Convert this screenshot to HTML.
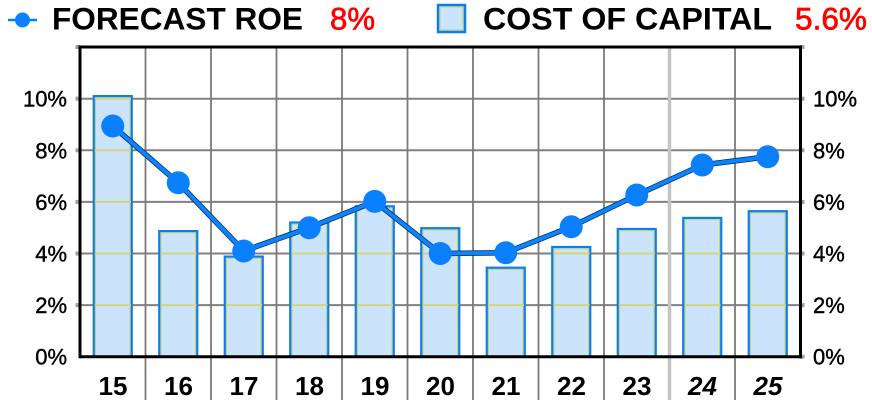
<!DOCTYPE html>
<html><head><meta charset="utf-8">
<style>
html,body{margin:0;padding:0;background:#fff;}
svg{display:block;}
text{font-family:"Liberation Sans",Arial,sans-serif;}
</style></head>
<body>
<svg width="872" height="408" viewBox="0 0 872 408" xmlns="http://www.w3.org/2000/svg">
<rect width="872" height="408" fill="#fff"/>
<!-- Legend -->
<line x1="8" y1="20" x2="37" y2="20" stroke="#0a7ef5" stroke-width="2.5"/>
<circle cx="22.5" cy="20" r="7.5" fill="#0a80ff"/>
<text x="52" y="29.5" font-size="31.5" font-weight="bold" fill="#000" textLength="251" lengthAdjust="spacingAndGlyphs">FORECAST ROE</text>
<text x="330" y="29.5" font-size="31.5" fill="#ff0000" stroke="#ff0000" stroke-width="0.7" textLength="45" lengthAdjust="spacingAndGlyphs">8%</text>
<rect x="438" y="5" width="27" height="27" fill="#cce4fb" stroke="#0a7ef0" stroke-width="2.5"/>
<rect x="440" y="7" width="23" height="23" fill="none" stroke="#c8d46a" stroke-width="1"/>
<text x="483" y="29.5" font-size="31.5" font-weight="bold" fill="#000" textLength="289" lengthAdjust="spacingAndGlyphs">COST OF CAPITAL</text>
<text x="795" y="29.5" font-size="31.5" fill="#ff0000" stroke="#ff0000" stroke-width="0.7" textLength="72" lengthAdjust="spacingAndGlyphs">5.6%</text>

<!-- horizontal gridlines -->
<g stroke="#808080" stroke-width="2">
<line x1="80" y1="98.7" x2="800" y2="98.7"/>
<line x1="80" y1="150.3" x2="800" y2="150.3"/>
<line x1="80" y1="201.9" x2="800" y2="201.9"/>
<line x1="80" y1="253.5" x2="800" y2="253.5"/>
<line x1="80" y1="305.1" x2="800" y2="305.1"/>
</g>
<!-- vertical gridlines (extend below axis) -->
<g stroke="#7a7a7a" stroke-width="1.8">
<line x1="145.5" y1="47" x2="145.5" y2="400"/>
<line x1="211" y1="47" x2="211" y2="400"/>
<line x1="276.5" y1="47" x2="276.5" y2="400"/>
<line x1="342" y1="47" x2="342" y2="400"/>
<line x1="407.5" y1="47" x2="407.5" y2="400"/>
<line x1="473" y1="47" x2="473" y2="400"/>
<line x1="538.5" y1="47" x2="538.5" y2="400"/>
<line x1="604" y1="47" x2="604" y2="400"/>
<line x1="735" y1="47" x2="735" y2="400"/>
</g>
<line x1="669.5" y1="47" x2="669.5" y2="400" stroke="#c4c4c4" stroke-width="3.5"/>

<!-- Bars -->
<g fill="#cce4fb" stroke="#0a7ef0" stroke-width="2.2">
<rect x="93.75" y="96.1" width="38" height="260.6"/>
<rect x="159.25" y="231.1" width="38" height="125.6"/>
<rect x="224.75" y="256.6" width="38" height="100.1"/>
<rect x="290.25" y="222.5" width="38" height="134.2"/>
<rect x="355.75" y="206.3" width="38" height="150.4"/>
<rect x="421.25" y="228.2" width="38" height="128.5"/>
<rect x="486.75" y="267.7" width="38" height="89"/>
<rect x="552.25" y="247.0" width="38" height="109.7"/>
<rect x="617.75" y="229.0" width="38" height="127.7"/>
<rect x="683.25" y="217.9" width="38" height="138.8"/>
<rect x="748.75" y="211.2" width="38" height="145.5"/>
</g>
<g fill="none" stroke="#c8d46a" stroke-width="1">
<rect x="95.5" y="97.9" width="34.5" height="258"/>
<rect x="161" y="232.9" width="34.5" height="123"/>
<rect x="226.5" y="258.4" width="34.5" height="97.5"/>
<rect x="292" y="224.3" width="34.5" height="131.6"/>
<rect x="357.5" y="208.1" width="34.5" height="147.8"/>
<rect x="423" y="230" width="34.5" height="125.9"/>
<rect x="488.5" y="269.5" width="34.5" height="86.4"/>
<rect x="554" y="248.8" width="34.5" height="107.1"/>
<rect x="619.5" y="230.8" width="34.5" height="125.1"/>
<rect x="685" y="219.7" width="34.5" height="136.2"/>
<rect x="750.5" y="213" width="34.5" height="142.9"/>
</g>
<!-- yellowish gridline segments inside bars -->
<g stroke="#d2d67a" stroke-width="2">
<line x1="95" y1="98.7" x2="131" y2="98.7"/>
<line x1="95" y1="150.3" x2="131" y2="150.3"/>
<line x1="95" y1="201.9" x2="131" y2="201.9"/>
<line x1="95" y1="253.5" x2="131" y2="253.5"/>
<line x1="95" y1="305.1" x2="131" y2="305.1"/>
<line x1="160.5" y1="253.5" x2="196.5" y2="253.5"/>
<line x1="160.5" y1="305.1" x2="196.5" y2="305.1"/>
<line x1="226" y1="305.1" x2="262" y2="305.1"/>
<line x1="291.5" y1="253.5" x2="327.5" y2="253.5"/>
<line x1="291.5" y1="305.1" x2="327.5" y2="305.1"/>
<line x1="357" y1="253.5" x2="393" y2="253.5"/>
<line x1="357" y1="305.1" x2="393" y2="305.1"/>
<line x1="422.5" y1="253.5" x2="458.5" y2="253.5"/>
<line x1="422.5" y1="305.1" x2="458.5" y2="305.1"/>
<line x1="488" y1="305.1" x2="524" y2="305.1"/>
<line x1="553.5" y1="253.5" x2="589.5" y2="253.5"/>
<line x1="553.5" y1="305.1" x2="589.5" y2="305.1"/>
<line x1="619" y1="253.5" x2="655" y2="253.5"/>
<line x1="619" y1="305.1" x2="655" y2="305.1"/>
<line x1="684.5" y1="253.5" x2="720.5" y2="253.5"/>
<line x1="684.5" y1="305.1" x2="720.5" y2="305.1"/>
<line x1="750" y1="253.5" x2="786" y2="253.5"/>
<line x1="750" y1="305.1" x2="786" y2="305.1"/>
</g>

<!-- Forecast line -->
<polyline fill="none" stroke="#0b2a55" stroke-width="5.5" stroke-linejoin="round"
 points="112.75,126 178.25,182.8 243.75,251 309.25,227.7 374.75,201.4 440.25,253.5 505.75,252.7 571.25,226.7 636.75,195 702.25,165 767.75,156.7"/>
<polyline fill="none" stroke="#0a84ff" stroke-width="4" stroke-linejoin="round"
 points="112.75,126 178.25,182.8 243.75,251 309.25,227.7 374.75,201.4 440.25,253.5 505.75,252.7 571.25,226.7 636.75,195 702.25,165 767.75,156.7"/>
<g fill="#0a80ff">
<circle cx="112.75" cy="126" r="11.5"/>
<circle cx="178.25" cy="182.8" r="11.5"/>
<circle cx="243.75" cy="251" r="11.5"/>
<circle cx="309.25" cy="227.7" r="11.5"/>
<circle cx="374.75" cy="201.4" r="11.5"/>
<circle cx="440.25" cy="253.5" r="11.5"/>
<circle cx="505.75" cy="252.7" r="11.5"/>
<circle cx="571.25" cy="226.7" r="11.5"/>
<circle cx="636.75" cy="195" r="11.5"/>
<circle cx="702.25" cy="165" r="11.5"/>
<circle cx="767.75" cy="156.7" r="11.5"/>
</g>

<!-- Axes frame -->
<g fill="#a0a0a0">
<rect x="75.5" y="45" width="5" height="4"/>
<rect x="75.5" y="96.7" width="5" height="4"/>
<rect x="75.5" y="148.3" width="5" height="4"/>
<rect x="75.5" y="199.9" width="5" height="4"/>
<rect x="75.5" y="251.5" width="5" height="4"/>
<rect x="75.5" y="303.1" width="5" height="4"/>
<rect x="799.5" y="45" width="5" height="4"/>
<rect x="799.5" y="96.7" width="5" height="4"/>
<rect x="799.5" y="148.3" width="5" height="4"/>
<rect x="799.5" y="199.9" width="5" height="4"/>
<rect x="799.5" y="251.5" width="5" height="4"/>
<rect x="799.5" y="303.1" width="5" height="4"/>
<rect x="799.5" y="354.7" width="5" height="4"/>
</g>
<g stroke="#000" stroke-width="3">
<line x1="80" y1="47" x2="801" y2="47"/>
<line x1="80" y1="356.7" x2="801" y2="356.7"/>
<line x1="80" y1="45.5" x2="80" y2="358.2"/>
<line x1="800.5" y1="45.5" x2="800.5" y2="358.2"/>
</g>

<!-- Y labels left -->
<g font-size="22" fill="#000" stroke="#000" stroke-width="0.4" text-anchor="end">
<text x="67" y="106.7">10%</text>
<text x="67" y="158.3">8%</text>
<text x="67" y="209.9">6%</text>
<text x="67" y="261.5">4%</text>
<text x="67" y="313.1">2%</text>
<text x="67" y="364.7">0%</text>
</g>
<!-- Y labels right -->
<g font-size="22" fill="#000" stroke="#000" stroke-width="0.4">
<text x="813" y="106.7">10%</text>
<text x="813" y="158.3">8%</text>
<text x="813" y="209.9">6%</text>
<text x="813" y="261.5">4%</text>
<text x="813" y="313.1">2%</text>
<text x="813" y="364.7">0%</text>
</g>

<!-- X labels -->
<g font-size="26" font-weight="bold" fill="#000" text-anchor="middle">
<text x="113" y="395">15</text>
<text x="178.5" y="395">16</text>
<text x="244" y="395">17</text>
<text x="309.5" y="395">18</text>
<text x="375" y="395">19</text>
<text x="440.5" y="395">20</text>
<text x="506" y="395">21</text>
<text x="571.5" y="395">22</text>
<text x="637" y="395">23</text>
<text x="702.5" y="395" font-style="italic">24</text>
<text x="768" y="395" font-style="italic">25</text>
</g>
</svg>
</body></html>
